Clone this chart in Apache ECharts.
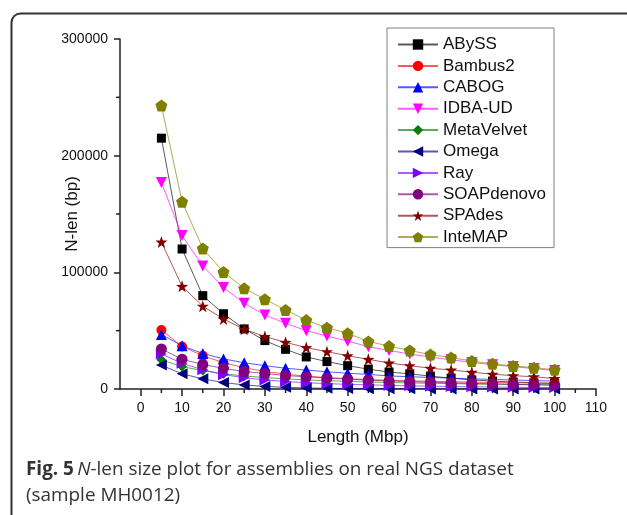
<!DOCTYPE html>
<html>
<head>
<meta charset="utf-8">
<script src="https://cdn.jsdelivr.net/npm/echarts@6/dist/echarts.min.js"></script>
<style>html,body{margin:0;padding:0;background:#fff;}#c{width:627px;height:515px;}</style>
</head>
<body>
<div id="c"></div>
<script>
var lengths = [5,10,15,20,25,30,35,40,45,50,55,60,65,70,75,80,85,90,95,100];
var xTickLabels = [0,10,20,30,40,50,60,70,80,90,100,110];
var yTickLabels = [0,100000,200000,300000];
var xMinorTicks = [5,15,25,35,45,55,65,75,85,95,105];
var yMinorTicks = [50000,150000,250000];
var ABySS = [215000,120000,80000,64500,51500,41500,34000,27500,23500,20000,17000,14500,13000,11000,9300,7800,6800,6000,5300,4700];
var Bambus2 = [50500,36500,28500,22500,18300,15000,12800,11000,9800,8800,8000,7500,7000,6600,6200,5900,5600,5300,5100,4900];
var CABOG = [46800,37000,30500,25800,22500,20000,17800,16200,14800,13500,12500,11200,10500,9900,9300,8700,8200,7700,7200,6700];
var IDBA_UD = [177000,131500,105500,87000,73500,63500,56300,50000,45400,41000,36300,33000,30000,27300,25000,22800,20800,19200,17500,15800];
var MetaVelvet = [25000,19200,15800,13000,11200,9800,8700,7800,7100,6500,6000,5600,5200,4900,4600,4300,4100,3900,3700,3500];
var Omega = [20500,13000,8700,5500,3500,2200,1400,900,600,400,300,200,150,100,100,80,60,50,40,30];
var Ray = [30000,22000,16500,12300,9700,7800,6400,5400,4600,4000,3500,3100,2700,2400,2100,1900,1700,1500,1300,1200];
var SOAPdenovo = [34300,25500,21000,17700,15000,13300,11500,10500,9300,8400,7600,6900,6300,5800,5300,4800,4400,4000,3600,3300];
var SPAdes = [126000,88000,71000,60000,51200,45000,40000,35500,32000,28500,25400,22300,20000,17800,16300,14400,12700,11400,10500,9000];
var InteMAP = [243000,160500,120500,100300,86300,77000,67700,59100,52600,47700,40800,36800,33000,29500,26900,24000,21600,19800,18300,16500];

var STAR = 'path://M0,-10 L2.35,-3.24 L9.51,-3.09 L3.80,1.24 L5.88,8.09 L0,4 L-5.88,8.09 L-3.80,1.24 L-9.51,-3.09 L-2.35,-3.24 Z';
var PENT = 'path://M0,-10 L9.51,-3.09 L5.88,8.09 L-5.88,8.09 L-9.51,-3.09 Z';

var defs = [
  ['ABySS', ABySS, '#000000', 'rect', 9, 0],
  ['Bambus2', Bambus2, '#ff0000', 'circle', 10, 0],
  ['CABOG', CABOG, '#0000ff', 'triangle', 11, 0],
  ['IDBA-UD', IDBA_UD, '#ff00ff', 'triangle', 11, 180],
  ['MetaVelvet', MetaVelvet, '#008000', 'diamond', 10, 0],
  ['Omega', Omega, '#000080', 'triangle', 11, 90],
  ['Ray', Ray, '#8000ff', 'triangle', 11, -90],
  ['SOAPdenovo', SOAPdenovo, '#800080', 'circle', 11, 0],
  ['SPAdes', SPAdes, '#800000', STAR, 12, 0],
  ['InteMAP', InteMAP, '#808000', PENT, 12, 0]
];

var X_MIN = -5, X_MAX = 110, Y_MIN = 0, Y_MAX = 300000;

function pairs(arr){ return lengths.map(function(x,i){ return [x, arr[i]]; }); }

var series = defs.map(function(d){
  return {
    name: d[0], type: 'line', data: pairs(d[1]),
    symbol: d[3], symbolSize: d[4], symbolRotate: d[5],
    showSymbol: true,
    itemStyle: {color: d[2], opacity: 1},
    lineStyle: {color: d[2], width: 1, opacity: 0.65},
    emphasis: {disabled: true},
    animation: false
  };
});

// minor tick marks, positioned through the axis scales
function minorTickSeries(data, dir){
  return {
    type: 'custom', name: '_minor_' + dir, silent: true, clip: false, z: 1,
    data: data,
    renderItem: function(params, api){
      var p = api.coord([api.value(0), api.value(1)]);
      var shape = dir === 'x'
        ? {x1: p[0], y1: p[1], x2: p[0], y2: p[1] + 4}
        : {x1: p[0], y1: p[1], x2: p[0] - 4, y2: p[1]};
      return {type: 'line', shape: shape, style: {stroke: '#222', lineWidth: 1.5}};
    }
  };
}
series.push(minorTickSeries(xMinorTicks.map(function(v){ return [v, Y_MIN]; }), 'x'));
series.push(minorTickSeries(yMinorTicks.map(function(v){ return [X_MIN, v]; }), 'y'));

var FONT = 'Liberation Sans, Arial, sans-serif';
function plain(val){ return String(val); }

var chart = echarts.init(document.getElementById('c'), null, {renderer: 'canvas'});
chart.setOption({
  backgroundColor: '#ffffff',
  animation: false,
  grid: {left: 120, right: 31, top: 39, bottom: 126, containLabel: false},
  legend: {
    orient: 'vertical', left: 387, top: 28,
    height: 300,
    padding: [8, 8, 2, 10],
    itemGap: 4.4, itemWidth: 40, itemHeight: 13,
    backgroundColor: '#ffffff',
    borderColor: '#808080', borderWidth: 1,
    textStyle: {fontFamily: FONT, fontSize: 17, lineHeight: 16, color: '#111'},
    data: defs.map(function(d){ return d[0]; })
  },
  xAxis: {
    type: 'value', min: X_MIN, max: X_MAX,
    name: 'Length (Mbp)', nameLocation: 'middle', nameGap: 39.5, nameMoveOverlap: false,
    nameTextStyle: {fontFamily: FONT, fontSize: 17, color: '#111'},
    axisLine: {show: true, onZero: false, lineStyle: {color: '#222', width: 1.5}},
    axisTick: {show: true, inside: false, length: 7, customValues: xTickLabels, lineStyle: {color: '#222', width: 1.5}},
    axisLabel: {show: true, margin: 12, customValues: xTickLabels, formatter: plain, fontFamily: FONT, fontSize: 14, color: '#111'},
    splitLine: {show: false}
  },
  yAxis: {
    type: 'value', min: Y_MIN, max: Y_MAX,
    name: 'N-len (bp)', nameLocation: 'middle', nameGap: 39.5, nameRotate: 90, nameMoveOverlap: false,
    nameTextStyle: {fontFamily: FONT, fontSize: 17, color: '#111'},
    axisLine: {show: true, onZero: false, lineStyle: {color: '#222', width: 1.5}},
    axisTick: {show: true, length: 6, customValues: yTickLabels, lineStyle: {color: '#222', width: 1.5}},
    axisLabel: {show: true, margin: 12, customValues: yTickLabels, formatter: plain, fontFamily: FONT, fontSize: 14, color: '#111'},
    splitLine: {show: false}
  },
  graphic: [{
    type: 'rect', left: 9, top: 11, silent: true, z: 100,
    shape: {x: 0, y: 0, width: 700, height: 600, r: 9},
    style: {fill: 'none', stroke: '#333', lineWidth: 2}
  }, {
    type: 'text', left: 26, top: 460, z: 100,
    style: {
      text: '{b|Fig. 5} {i|N}{n|-len size plot for assemblies on real NGS dataset}\n{n|(sample MH0012)}',
      fill: '#333',
      rich: {
        b: {fontFamily: 'Open Sans', fontWeight: 'bold', fontSize: 18.9, lineHeight: 26, fill: '#333'},
        i: {fontFamily: 'Open Sans', fontStyle: 'italic', fontSize: 18.9, lineHeight: 26, fill: '#333'},
        n: {fontFamily: 'Open Sans', fontSize: 18.9, lineHeight: 26, fill: '#333'}
      }
    }
  }],
  series: series
});
</script>
</body>
</html>
